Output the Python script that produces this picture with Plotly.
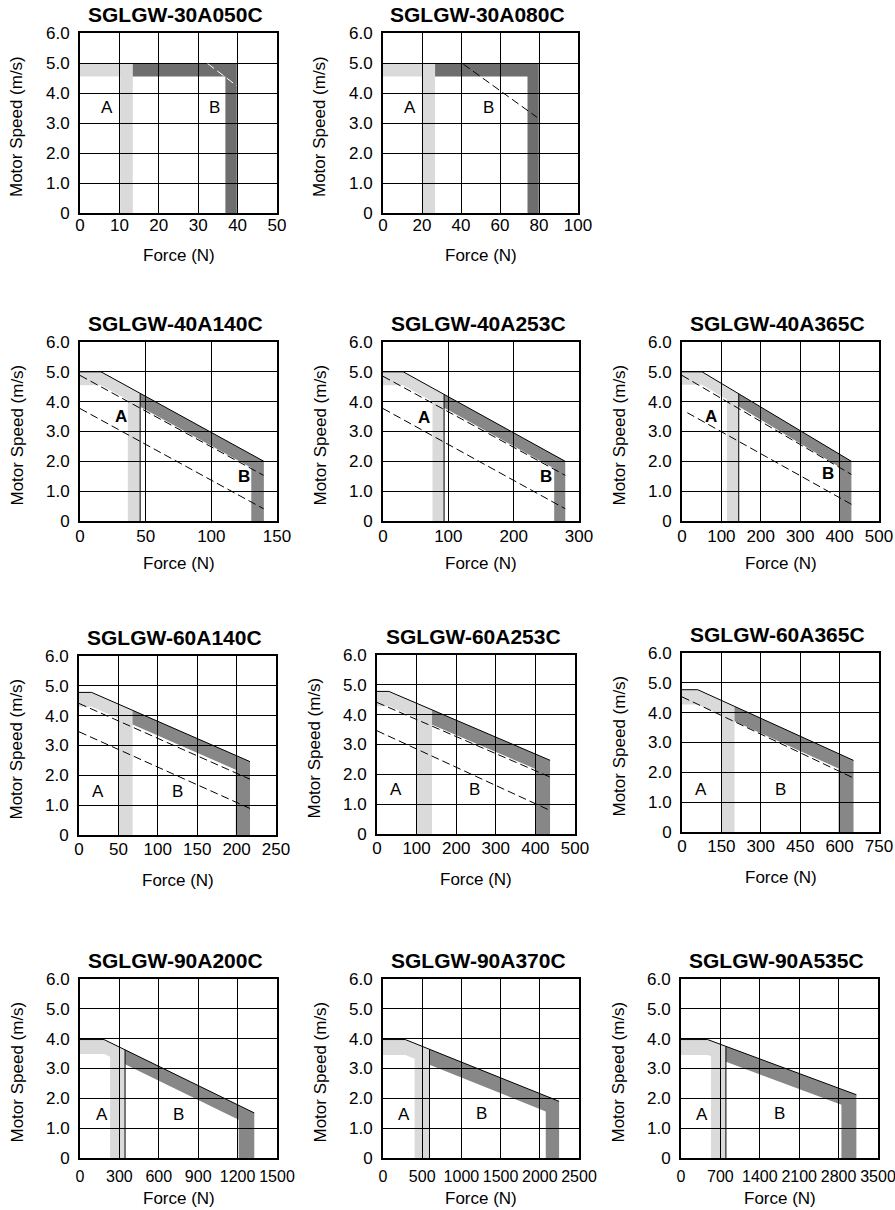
import plotly.graph_objects as go

# ---------------- data ----------------
TITLES = ["SGLGW-30A050C", "SGLGW-30A080C",
          "SGLGW-40A140C", "SGLGW-40A253C", "SGLGW-40A365C",
          "SGLGW-60A140C", "SGLGW-60A253C", "SGLGW-60A365C",
          "SGLGW-90A200C", "SGLGW-90A370C", "SGLGW-90A535C"]
ROW = [1, 1, 2, 2, 2, 3, 3, 3, 4, 4, 4]
X_MAX = [50, 100, 150, 300, 500, 250, 500, 750, 1500, 2500, 3500]
X_STEP = [10, 20, 50, 100, 100, 50, 100, 150, 300, 500, 700]
Y_TICKS = [0, 1, 2, 3, 4, 5, 6]
Y_TICKTEXT = ["0", "1.0", "2.0", "3.0", "4.0", "5.0", "6.0"]

# peak boundary: flat at V_MAX up to X_KNEE, then straight to (X_END, V_END)
V_MAX = [5.0, 5.0, 5.0, 5.0, 5.0, 4.78, 4.78, 4.77, 3.97, 3.97, 3.97]
X_KNEE = [39.8, 79.9, 16, 31, 51, 16, 30, 60, 183, 284, 473]
X_END = [39.8, 79.9, 140, 279, 430, 217, 437, 653, 1327, 2246, 3116]
V_END = [5.0, 5.0, 2.0, 2.0, 2.0, 2.46, 2.47, 2.4, 1.51, 1.9, 2.12]
BAND = [0.45, 0.45, 0.45, 0.45, 0.43, 0.48, 0.5, 0.5, 0.48, 0.52, 0.52]
A_LEFT = [10.2, 19.9, 36.4, 75.7, 114, 50, 99.5, 150, 229, 403, 532]
A_RIGHT = [13.4, 26.7, 45.8, 93.5, 144, 68, 139, 200, 343, 593, 798]
B_LEFT = [36.9, 74.1, 130.4, 262, 398.5, 199, 399, 596, 1208, 2076, 2850]

DASHES = [
    [([32.4, 39.8], [4.98, 4.24])],
    [([41.2, 79.0], [4.96, 3.19])],
    [([0, 139.8], [4.88, 1.53]), ([0, 139.8], [3.77, 0.41])],
    [([0, 279], [4.85, 1.53]), ([0, 279], [3.77, 0.41])],
    [([0, 430], [4.88, 1.56]), ([13.5, 430], [3.63, 0.56])],
    [([0, 217], [4.41, 1.87]), ([0, 217], [3.46, 0.89])],
    [([0, 437], [4.41, 1.91]), ([0, 432], [3.46, 0.82])],
    [([0, 653], [4.53, 1.81])],
    [], [], [],
]

LABEL_A = [(6.8, 3.5), (14, 3.5), (31.3, 3.5), (62, 3.46), (74, 3.5),
           (23.7, 1.45), (49, 1.49), (73, 1.42), (165, 1.45), (263, 1.45), (367, 1.45)]
LABEL_B = [(34.2, 3.5), (54, 3.5), (124.6, 1.5), (249, 1.5), (370, 1.59),
           (125, 1.45), (247, 1.49), (376, 1.42), (750, 1.45), (1258, 1.5), (1745, 1.5)]

# ---------------- layout (pixel boxes of each plot area) ----------------
W, H = 895, 1210
BOXES = [
    (80, 277, 33, 213), (383, 578, 33, 213),
    (80, 277, 342, 521), (383, 579, 342, 521), (682, 879, 342, 521),
    (79, 276, 656, 835), (377, 575, 655, 834), (682, 879, 653, 832),
    (80, 277, 979, 1158), (383, 579, 979, 1158), (681, 878, 979, 1158),
]
XSTANDOFF = {1: -4, 2: -1, 3: -2, 4: 3}
XTICK_SIZE = {1: 17, 2: 17, 3: 17, 4: 16}
XTITLE_SHIFT = {1: -42, 2: -42, 3: -45, 4: -40}
FONT = "Liberation Sans, Arial, Helvetica, sans-serif"
LIGHT = "rgba(0,0,0,0.145)"
DARK = {1: "rgba(0,0,0,0.57)", 2: "rgba(0,0,0,0.47)", 3: "rgba(0,0,0,0.47)", 4: "rgba(0,0,0,0.47)"}


def top(i, x):
    if x <= X_KNEE[i]:
        return V_MAX[i]
    return V_MAX[i] - (V_MAX[i] - V_END[i]) * (x - X_KNEE[i]) / (X_END[i] - X_KNEE[i])


def inner(i, x):
    return top(i, x) - BAND[i]


fig = go.Figure()
annotations = []

for i in range(len(TITLES)):
    n = "" if i == 0 else str(i + 1)
    xa, ya = "x" + n, "y" + n
    row = ROW[i]
    xk, aL, aR, bL, xr = X_KNEE[i], A_LEFT[i], A_RIGHT[i], B_LEFT[i], X_END[i]

    # region A polygon
    ax = [0] + ([xk] if xk < aR else []) + [aR, aR, aL, aL] + ([xk] if xk < aL else []) + [0]
    ay = ([top(i, 0)] + ([top(i, xk)] if xk < aR else []) + [top(i, aR), 0, 0, inner(i, aL)]
          + ([inner(i, xk)] if xk < aL else []) + [inner(i, 0)])
    fig.add_trace(go.Scatter(x=ax, y=ay, xaxis=xa, yaxis=ya, fill="toself", fillcolor=LIGHT,
                             mode="lines", line=dict(width=0), hoverinfo="skip", showlegend=False))
    # region B polygon
    bx = [aR] + ([xk] if aR < xk < xr else []) + [xr, xr, bL, bL] + ([xk] if aR < xk < bL else []) + [aR]
    by = ([top(i, aR)] + ([top(i, xk)] if aR < xk < xr else []) + [V_END[i], 0, 0, inner(i, bL)]
          + ([inner(i, xk)] if aR < xk < bL else []) + [inner(i, aR)])
    fig.add_trace(go.Scatter(x=bx, y=by, xaxis=xa, yaxis=ya, fill="toself", fillcolor=DARK[row],
                             mode="lines", line=dict(width=0), hoverinfo="skip", showlegend=False))
    # peak boundary line
    if row > 1:
        fig.add_trace(go.Scatter(x=[0, xk, xr], y=[V_MAX[i], V_MAX[i], V_END[i]], xaxis=xa, yaxis=ya,
                                 mode="lines", line=dict(color="black", width=1),
                                 hoverinfo="skip", showlegend=False))
    if row in (2, 4):
        fig.add_trace(go.Scatter(x=[aR, aR], y=[0, top(i, aR)], xaxis=xa, yaxis=ya,
                                 mode="lines", line=dict(color="black", width=1),
                                 hoverinfo="skip", showlegend=False))
    # dashed lines
    for dx, dy in DASHES[i]:
        fig.add_trace(go.Scatter(x=dx, y=dy, xaxis=xa, yaxis=ya, mode="lines",
                                 line=dict(color="white" if i == 0 else "black", width=1, dash="8px,4px"),
                                 hoverinfo="skip", showlegend=False))

    l, r, t, b = BOXES[i]
    xticks = list(range(0, X_MAX[i] + 1, X_STEP[i]))
    common = dict(showgrid=True, gridcolor="black", gridwidth=1, zeroline=False,
                  showline=True, mirror=True, linewidth=2, linecolor="black",
                  ticks="", automargin=False, tickangle=0, fixedrange=True,
                  ticklabeloverflow="allow")
    fig.update_layout(**{
        "xaxis" + n: dict(domain=[l / W, r / W], range=[0, X_MAX[i]], anchor=ya,
                          tickvals=xticks, ticktext=[str(v) for v in xticks],
                          ticklabelstandoff=XSTANDOFF[row],
                          tickfont=dict(family=FONT, size=XTICK_SIZE[row], color="black"), **common),
        "yaxis" + n: dict(domain=[1 - b / H, 1 - t / H], range=[0, 6], anchor=xa,
                          tickvals=Y_TICKS, ticktext=Y_TICKTEXT, ticklabelstandoff=5,
                          tickfont=dict(family=FONT, size=17, color="black"), **common),
    })

    annotations.append(dict(text="<b>" + TITLES[i] + "</b>", xref=xa + " domain", yref=ya + " domain",
                            x=0.5, y=1, xanchor="center", yanchor="bottom", xshift=-3, yshift=5,
                            showarrow=False, font=dict(family=FONT, size=21, color="black")))
    annotations.append(dict(text="Force (N)", xref=xa + " domain", yref=ya + " domain",
                            x=0.5, y=0, xanchor="center", yanchor="middle", yshift=XTITLE_SHIFT[row],
                            showarrow=False, font=dict(family=FONT, size=17, color="black")))
    annotations.append(dict(text="Motor Speed (m/s)", xref=xa + " domain", yref=ya + " domain",
                            x=0, y=0.5, xanchor="center", yanchor="middle", xshift=-63, yshift=-4,
                            textangle=-90, showarrow=False,
                            font=dict(family=FONT, size=17, color="black")))
    for txt, (lx, ly) in (("A", LABEL_A[i]), ("B", LABEL_B[i])):
        annotations.append(dict(text=("<b>%s</b>" % txt) if row == 2 else txt, xref=xa, yref=ya,
                                x=lx, y=ly, showarrow=False,
                                font=dict(family=FONT, size=17, color="black")))

fig.update_layout(width=W, height=H, margin=dict(l=0, r=0, t=0, b=0, autoexpand=False),
                  plot_bgcolor="white", paper_bgcolor="white", showlegend=False,
                  annotations=annotations, font=dict(family=FONT, color="black"))

# remove the browser's default page margin so the figure sits at the window's top-left corner
fig.write_html("out.html", config={"displayModeBar": False, "staticPlot": True},
               post_script="document.body.style.margin='0px';")
